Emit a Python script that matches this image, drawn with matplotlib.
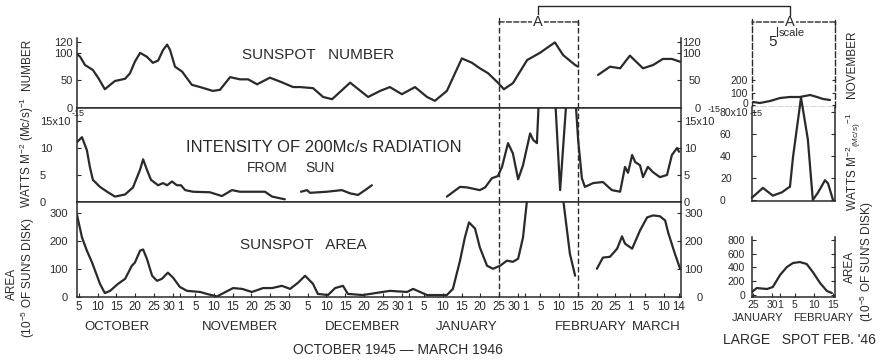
import matplotlib
matplotlib.use("Agg")
import matplotlib.pyplot as plt
from matplotlib.lines import Line2D
from matplotlib.transforms import ScaledTranslation

plt.rcParams['font.family'] = ['Liberation Sans', 'DejaVu Sans']
plt.rcParams['mathtext.fontset'] = 'custom'
plt.rcParams['mathtext.rm'] = 'Liberation Sans'
plt.rcParams['mathtext.it'] = 'Liberation Sans:italic'

# Data: x is days after 1 Oct 1945
number1_days = [3.5, 4.3, 5.6, 7.7, 9.1, 10.9, 12.3, 13.6, 16.3, 17.6, 18.9, 20.3, 22.1, 23.7,
                25.1, 26.4, 27.5, 28.3, 29.6, 31.5, 34.1, 36.3, 39.7, 41.6, 44.3, 46.9, 49.1,
                51.5, 54.9, 57.6, 61.1, 62.9, 66.4, 69.1, 71.5, 76.3, 81.1, 84.3, 86.9, 90.1,
                93.6, 96.8, 98.9, 102.1, 106.1, 108.8, 110.9, 113.1, 115.7, 117.3, 119.7,
                123.5, 126.9, 130.9, 133.1, 136.3, 137.1]
number1_vals = [98, 93, 78, 69, 55, 34, 42, 49, 53, 63, 84, 100, 93, 82, 86, 105, 115, 105, 75,
                66, 42, 38, 31, 33, 56, 52, 52, 43, 55, 48, 38, 38, 36, 20, 16, 46, 20, 31, 38,
                25, 38, 20, 13, 31, 90, 82, 72, 63, 46, 34, 45, 87, 100, 119, 96, 78, 75]
number2_days = [142.4, 145.6, 148.3, 150.9, 154.4, 157.1, 159.7, 162.1, 164.3]
number2_vals = [60, 75, 72, 95, 72, 78, 89, 89, 84]

radio1_days = [3.2, 4.8, 6.1, 6.9, 7.7, 9.6, 11.5, 13.6, 16.3, 18.4, 20.3, 21.1, 22.1, 23.2,
               25.1, 26.4, 27.5, 28.8, 30.1, 31.2, 32.3, 34.4, 38.9, 42.1, 44.8, 46.9, 52.3,
               53.6, 55.5, 58.9]
radio1_vals = [10.9, 12.0, 9.6, 6.5, 4.1, 2.8, 1.9, 1.0, 1.4, 2.7, 6.0, 7.9, 6.0, 4.1, 3.1,
               3.5, 3.1, 3.8, 3.1, 3.1, 2.2, 1.9, 1.8, 1.1, 2.2, 1.9, 1.9, 1.9, 1.0, 0.5]
radio2_days = [63.2, 64.8, 65.6, 70.1, 74.1, 76.3, 78.4, 80.3, 82.1]
radio2_vals = [1.9, 2.2, 1.7, 1.9, 2.2, 1.6, 1.3, 2.2, 3.1]
radio3_days = [102.1, 105.6, 107.5, 110.9, 112.3, 114.1, 115.7, 116.8, 118.4, 119.7, 121.1,
               122.4, 124.3, 125.1, 126.1, 126.7, 130.9, 132.3, 134.1, 136.3, 137.1, 138.1,
               138.9, 141.1, 143.7, 146.1, 148.3, 149.6, 150.4, 151.5, 152.3, 153.6, 154.4,
               155.7, 157.1, 158.9, 160.8, 162.1, 163.5, 164.0]
radio3_vals = [1.0, 2.8, 2.7, 2.2, 2.7, 4.4, 4.8, 6.5, 10.9, 9.0, 4.2, 6.8, 12.7, 11.5, 10.9,
               20, 20, 2.2, 20, 20, 11.5, 4.4, 2.8, 3.5, 3.7, 2.2, 1.9, 6.5, 5.4, 8.7, 7.4,
               6.8, 4.6, 6.5, 5.5, 4.6, 5.0, 8.7, 10.0, 9.3]

area1_days = [3.5, 4.8, 6.1, 7.5, 8.3, 9.6, 10.9, 12.3, 14.4, 16.3, 18.1, 18.9, 20.3, 21.1,
              22.1, 23.5, 24.8, 26.1, 27.7, 29.1, 30.9, 32.8, 36.3, 38.1, 40.8, 45.1, 47.5,
              50.1, 53.1, 55.5, 58.1, 60.3, 62.4, 64.3, 66.4, 67.7, 70.4, 72.3, 74.4, 75.7,
              79.7, 86.9, 91.5, 93.1, 96.8, 102.1, 103.7, 105.6, 106.9, 108.0, 109.6, 110.9,
              112.8, 114.4, 116.3, 118.1, 119.7, 121.1, 122.4, 123.5, 133.1, 134.9, 136.3]
area1_vals = [292, 213, 166, 123, 94, 47, 14, 22, 47, 65, 112, 123, 166, 170, 137, 76, 58, 65,
              87, 69, 36, 22, 18, 11, 2, 32, 29, 18, 32, 32, 40, 29, 51, 76, 47, 11, 7, 32,
              40, 11, 7, 22, 18, 29, 7, 7, 29, 130, 213, 267, 245, 177, 112, 101, 112, 130,
              126, 137, 213, 350, 350, 155, 76]
area2_days = [142.1, 143.7, 145.6, 147.5, 148.8, 149.6, 151.5, 153.6, 155.5, 157.1, 158.9,
              160.3, 161.1, 162.9, 164.3]
area2_vals = [101, 141, 144, 173, 217, 191, 173, 238, 285, 292, 289, 274, 231, 155, 101]

# large spot inset (25 Jan - 15 Feb)
in_number_days = [116.0, 117.8, 120.5, 123.1, 125.7, 128.3, 131.0, 132.8, 134.4, 136.2]
in_number_vals = [24, 16, 32, 56, 64, 64, 80, 64, 48, 40]
in_radio_days = [115.7, 118.6, 121.2, 123.6, 125.2, 125.7, 126.5, 128.6, 130.4, 131.7, 133.1,
                 134.9, 135.7, 137.0]
in_radio_vals = [2, 11, 4, 7, 11, 12, 39, 93, 55, 0, 7, 18, 15, 0]
in_area_days = [115.7, 117.0, 119.7, 121.2, 123.1, 124.9, 126.5, 128.3, 130.1, 131.7, 133.6,
                135.4, 136.7]
in_area_vals = [43, 101, 87, 116, 290, 406, 464, 478, 449, 333, 174, 58, 29]

# date axis
month_start = {'Oct': 0, 'Nov': 31, 'Dec': 61, 'Jan': 92, 'Feb': 123, 'Mar': 151}
tick_months = ['Oct'] * 6 + ['Nov'] * 7 + ['Dec'] * 6 + ['Jan'] * 7 + ['Feb'] * 6 + ['Mar'] * 4
tick_dom = [5, 10, 15, 20, 25, 30, 1, 5, 10, 15, 20, 25, 30, 5, 10, 15, 20, 25, 30,
            1, 5, 10, 15, 20, 25, 30, 1, 5, 10, 15, 20, 25, 1, 5, 10, 14]
month_names = ['OCTOBER', 'NOVEMBER', 'DECEMBER', 'JANUARY', 'FEBRUARY', 'MARCH']
month_label_day = [14, 47, 79.5, 107.5, 140.5, 158]
in_tick_days = [116, 121, 123, 127, 132, 137]
in_tick_labels = ['25', '30', '1', '5', '10', '15']

W, H = 886, 361
ink = '#2a2a2a'
dash = (0, (4, 2))


def box(x0, y0, x1, y1):
    return [x0 / W, 1 - y1 / H, (x1 - x0) / W, (y1 - y0) / H]


def fx(x):
    return x / W


def fy(y):
    return 1 - y / H


def yaxis(ax, ticks, labels, pad_px, ha, size=8):
    ax.set_yticks(ticks, labels)
    ax.tick_params(axis='y', direction='in', length=3, width=0.8, labelsize=size,
                   pad=pad_px * 0.72, colors=ink)
    for t in ax.get_yticklabels():
        t.set_ha(ha)


fig = plt.figure(figsize=(W / 100, H / 100), dpi=100)
ax_num = fig.add_axes(box(77, 38, 681, 108))
ax_rad = fig.add_axes(box(77, 108, 681, 202))
ax_area = fig.add_axes(box(77, 202, 681, 297))
in_num = fig.add_axes(box(752, 22, 835, 107))
in_rad = fig.add_axes(box(752, 107, 835, 201))
in_area = fig.add_axes(box(752, 237, 835, 297))

line_kw = dict(color=ink, lw=1.6, solid_capstyle='round', solid_joinstyle='round')

ax_num.plot(number1_days, number1_vals, **line_kw)
ax_num.plot(number2_days, number2_vals, **line_kw)
ax_rad.plot(radio1_days, radio1_vals, **line_kw)
ax_rad.plot(radio2_days, radio2_vals, **line_kw)
ax_rad.plot(radio3_days, radio3_vals, **line_kw)
ax_area.plot(area1_days, area1_vals, **line_kw)
ax_area.plot(area2_days, area2_vals, **line_kw)

ax_num.set_ylim(0, 127)
ax_rad.set_ylim(0, 17.4)
ax_area.set_ylim(0, 340)

main_ticks = [
    (ax_num, [0, 50, 100, 120], ['0', '50', '100', '120'], (4, 'right'), (20, 'right')),
    (ax_rad, [0, 5, 10, 15], ['0', '5', '10', '15x10'], (37, 'left'), (3, 'left')),
    (ax_area, [0, 100, 200, 300], ['0', '100', '200', '300'], (9, 'right'), (22, 'right')),
]
for ax, ticks, labels, left, right in main_ticks:
    ax.set_xlim(3.47, 164.53)
    yaxis(ax, ticks, labels, *left)
    sec = ax.secondary_yaxis('right')
    yaxis(sec, ticks, labels, *right)
    sec.spines['right'].set_linewidth(1.1)
    sec.spines['right'].set_color(ink)
    for s in ax.spines.values():
        s.set_linewidth(1.1)
        s.set_color(ink)
    ax.spines['right'].set_visible(False)
    for d in (116, 137):
        top = 1.229 if ax is ax_num else 1.0
        ax.axvline(d, ymin=0, ymax=top, clip_on=False, ls=dash, lw=1, color=ink)
ax_num.spines['top'].set_visible(False)
ax_num.set_xticks([])
ax_rad.set_xticks([])

tick_pos = [month_start[m] + d - 1 for m, d in zip(tick_months, tick_dom)]
ax_area.set_xticks(tick_pos, [str(d) for d in tick_dom])
ax_area.tick_params(axis='x', direction='in', length=3, width=0.8, labelsize=8.3, pad=3,
                    colors=ink)
# the "30" labels sit squeezed to the left of the following "1", as in the original
nudge = ScaledTranslation(-4 / 100, 0, fig.dpi_scale_trans)
for tick, d in zip(ax_area.xaxis.get_major_ticks(), tick_dom):
    if d == 30:
        tick.label1.set_transform(tick.label1.get_transform() + nudge)
xt = ax_area.get_xaxis_transform()
for name, d in zip(month_names, month_label_day):
    ax_area.text(d, -0.316, name, transform=xt, ha='center', va='center', fontsize=9.5,
                 color=ink)
ax_area.text(89, -0.558, 'OCTOBER 1945 \u2014 MARCH 1946', transform=xt, ha='center',
             va='center', fontsize=10, color=ink)

# inset: large spot
in_num.plot(in_number_days, in_number_vals, **line_kw)
in_rad.plot(in_radio_days, in_radio_vals, clip_on=False, **line_kw)
in_area.plot(in_area_days, in_area_vals, **line_kw)
in_num.set_ylim(-16, 664)
in_rad.set_ylim(-0.9, 84.5)
in_area.set_ylim(-29, 841)
inset_ticks = [
    (in_num, [0, 100, 200], ['0', '100', '200'], 4, 'right'),
    (in_rad, [0, 20, 40, 60, 80], ['0', '20', '40', '60', '80x10'], 32, 'left'),
    (in_area, [0, 200, 400, 600, 800], ['0', '200', '400', '600', '800'], 7, 'right'),
]
for ax, ticks, labels, pad, ha in inset_ticks:
    ax.set_xlim(115.74, 137.52)
    yaxis(ax, ticks, labels, pad, ha, size=7.5)
    ax.tick_params(axis='y', right=True, labelright=False)
    for s in ax.spines.values():
        s.set_linewidth(1.1)
        s.set_color(ink)
    ax.spines['top'].set_visible(False)
for s in ('left', 'right', 'bottom'):
    in_num.spines[s].set_linestyle(dash)
    in_num.spines[s].set_linewidth(1)
in_num.tick_params(axis='y', length=2)
# lift the inset "0" a touch so it clears the 80x10 label below
lift = ScaledTranslation(0, 2 / 100, fig.dpi_scale_trans)
zero_lab = in_num.yaxis.get_major_ticks()[0].label1
zero_lab.set_transform(zero_lab.get_transform() + lift)
in_num.set_xticks([])
in_rad.set_xticks([])
in_area.set_xticks(in_tick_days, in_tick_labels)
in_area.tick_params(axis='x', direction='in', length=3, width=0.8, labelsize=7.5, pad=2,
                    colors=ink)
ixt = in_area.get_xaxis_transform()
in_area.text(117.3, -0.35, 'JANUARY', transform=ixt, ha='center', va='center', fontsize=8,
             color=ink)
in_area.text(134.4, -0.35, 'FEBRUARY', transform=ixt, ha='center', va='center', fontsize=8,
             color=ink)
in_area.text(128.3, -0.717, "LARGE   SPOT FEB. '46", transform=ixt, ha='center',
             va='center', fontsize=10, color=ink)

# brackets "A" and the connector
ax_num.annotate('', xy=(116, 1.229), xytext=(137, 1.229), xycoords=ax_num.get_xaxis_transform(),
                arrowprops=dict(arrowstyle='|-|,widthA=0.25,widthB=0.25', lw=1, ls='--',
                                color=ink, shrinkA=0, shrinkB=0))
ax_num.text(126.4, 1.229, 'A', transform=ax_num.get_xaxis_transform(), ha='center',
            va='center', fontsize=10.5, color=ink,
            bbox=dict(fc='white', ec='none', pad=1))
in_num.annotate('', xy=(115.74, 1.0), xytext=(137.52, 1.0), xycoords=in_num.get_xaxis_transform(),
                arrowprops=dict(arrowstyle='|-|,widthA=0.25,widthB=0.25', lw=1, ls='--',
                                color=ink, shrinkA=0, shrinkB=0))
in_num.text(125.7, 1.0, 'A', transform=in_num.get_xaxis_transform(), ha='center',
            va='center', fontsize=10.5, color=ink,
            bbox=dict(fc='white', ec='none', pad=1))

to_fig = fig.transFigure.inverted()
x_main = to_fig.transform(ax_num.transData.transform((126.4, 0)))[0]
x_in = to_fig.transform(in_num.transData.transform((125.7, 0)))[0]
fig.add_artist(Line2D([x_main, x_main, x_in, x_in], [fy(14), fy(6), fy(6), fy(15)],
                      color=ink, lw=1))

fig.text(fx(773), fy(42), '5', ha='center', va='center', fontsize=11, color=ink)
fig.add_artist(Line2D([fx(777), fx(777)], [fy(27), fy(36)], color=ink, lw=0.8))
fig.text(fx(779), fy(33), 'scale', ha='left', va='center', fontsize=8, color=ink)

# superscript exponents on the 10^-15 labels
for x, y in ((72, 113), (708, 110), (750, 113)):
    fig.text(fx(x), fy(y), '-15', ha='left', va='center', fontsize=6.5, color=ink)

# panel captions
fig.text(fx(318), fy(55), 'SUNSPOT   NUMBER', ha='center', va='center', fontsize=11, color=ink)
fig.text(fx(324), fy(147), 'INTENSITY OF 200Mc/s RADIATION', ha='center', va='center',
         fontsize=12, color=ink)
fig.text(fx(267), fy(168), 'FROM', ha='center', va='center', fontsize=10, color=ink)
fig.text(fx(320), fy(168), 'SUN', ha='center', va='center', fontsize=10, color=ink)
fig.text(fx(303), fy(245), 'SUNSPOT   AREA', ha='center', va='center', fontsize=11, color=ink)

# axis titles
side = dict(rotation=90, ha='center', va='center', fontsize=8.5, color=ink)
fig.text(fx(27), fy(64), 'NUMBER', **side)
fig.text(fx(27), fy(152), r'WATTS M$^{-2}$ (Mc/s)$^{-1}$', **side)
fig.text(fx(28), fy(278), "(10$^{-5}$ OF SUN'S DISK)", **side)
fig.text(fx(12), fy(284), 'AREA', **side)
fig.text(fx(852), fy(64), 'NOVEMBER', **side)
fig.text(fx(853), fy(162), r'WATTS M$^{-2}$$_{\rm (Mc/s)}$$^{-1}$', **side)
fig.text(fx(850), fy(267), 'AREA', **side)
fig.text(fx(867), fy(262), "(10$^{-5}$ OF SUN'S DISK)", **side)

fig.savefig('out.png', dpi=100)
